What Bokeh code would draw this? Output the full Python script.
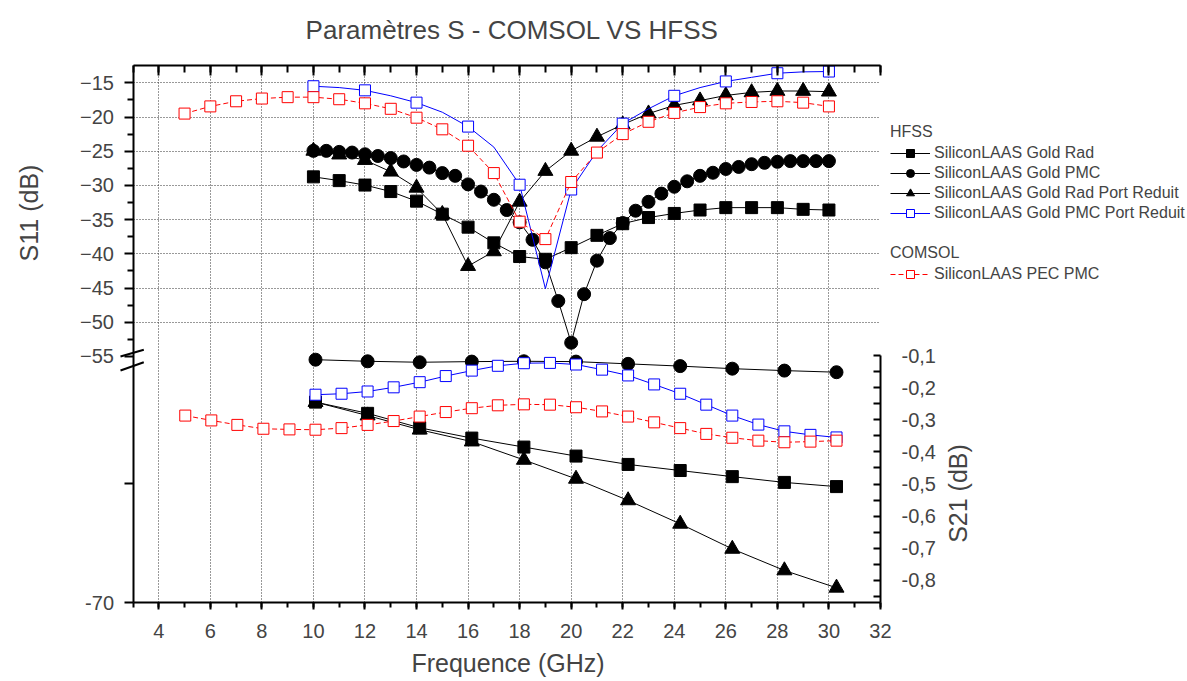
import math
from bokeh.plotting import figure
from bokeh.models import (Range1d, LinearAxis, FixedTicker, SingleIntervalTicker, Grid,
                          CustomJSTickFormatter, Legend, LegendItem, Label, Arrow)
from bokeh.embed import file_html
from bokeh.resources import INLINE

FONT = "Liberation Sans"

# ---------------- data ----------------
# S11 (dB), upper part, left axis
rad_s11_x = [10, 11, 12, 13, 14, 15, 16, 17, 18, 19, 20, 21, 22, 23, 24, 25, 26, 27, 28, 29, 30]
rad_s11 = [-28.75, -29.3, -29.95, -30.9, -32.3, -34.2, -36.1, -38.4, -40.4, -40.8, -39.1,
           -37.3, -35.6, -34.7, -34.1, -33.6, -33.25, -33.25, -33.25, -33.5, -33.6]

pmc_s11_x = [10, 10.5, 11, 11.5, 12, 12.5, 13, 13.5, 14, 14.5, 15, 15.5, 16, 16.5, 17, 17.5,
             18, 18.5, 19, 19.5, 20, 20.5, 21, 21.5, 22, 22.5, 23, 23.5, 24, 24.5, 25, 25.5,
             26, 26.5, 27, 27.5, 28, 28.5, 29, 29.5, 30]
pmc_s11 = [-24.95, -24.95, -25.1, -25.2, -25.45, -25.7, -26.0, -26.5, -27.0, -27.4, -28.2,
           -28.6, -29.85, -30.9, -32.1, -33.6, -35.4, -37.95, -41.25, -46.9, -53.0, -45.9,
           -41.0, -37.7, -35.5, -33.7, -32.4, -31.2, -30.2, -29.4, -28.6, -28.15, -27.6,
           -27.3, -26.9, -26.7, -26.55, -26.45, -26.45, -26.45, -26.45]

rpr_s11_x = [10, 11, 12, 13, 14, 15, 16, 17, 18, 19, 20, 21, 22, 23, 24, 25, 26, 27, 28, 29, 30]
rpr_s11 = [-24.95, -25.5, -26.3, -28.0, -30.35, -34.2, -41.8, -39.65, -32.4, -27.9, -24.95,
           -22.9, -21.1, -19.5, -18.3, -17.6, -16.85, -16.4, -16.2, -16.2, -16.3]

ppr_s11_x = [10, 11, 12, 13, 14, 15, 16, 17, 18, 19, 20, 21, 22, 23, 24, 25, 26, 27, 28, 29, 30]
ppr_s11 = [-15.5, -15.7, -16.1, -16.9, -17.9, -19.3, -21.4, -24.4, -29.9, -45.1, -30.6,
           -25.0, -20.97, -18.8, -16.9, -15.7, -14.8, -14.2, -13.6, -13.4, -13.35]
ppr_s11_marker_x = [10, 12, 14, 16, 18, 20, 22, 24, 26, 28, 30]

comsol_s11_x = [5, 6, 7, 8, 9, 10, 11, 12, 13, 14, 15, 16, 17, 18, 19, 20, 21, 22, 23, 24,
                25, 26, 27, 28, 29, 30]
comsol_s11 = [-19.5, -18.45, -17.7, -17.3, -17.1, -17.1, -17.4, -18.0, -18.8, -20.1, -21.8,
              -24.2, -28.2, -35.3, -37.85, -29.5, -25.2, -22.5, -20.7, -19.4, -18.55, -18.0,
              -17.8, -17.7, -17.9, -18.45]

# S21 (dB), lower part, right axis
hfss_s21_x = [10, 12, 14, 16, 18, 20, 22, 24, 26, 28, 30]
rad_s21 = [-0.245, -0.280, -0.325, -0.357, -0.385, -0.413, -0.439, -0.458, -0.477, -0.495, -0.508]
pmc_s21 = [-0.113, -0.118, -0.121, -0.119, -0.118, -0.119, -0.126, -0.133, -0.141, -0.147, -0.152]
rpr_s21 = [-0.245, -0.287, -0.331, -0.368, -0.425, -0.484, -0.551, -0.624, -0.702, -0.769, -0.823]

ppr_s21_x = [10, 11, 12, 13, 14, 15, 16, 17, 18, 19, 20, 21, 22, 23, 24, 25, 26, 27, 28, 29, 30]
ppr_s21 = [-0.222, -0.219, -0.212, -0.199, -0.183, -0.164, -0.147, -0.132, -0.124, -0.123,
           -0.128, -0.144, -0.162, -0.190, -0.219, -0.253, -0.287, -0.315, -0.336, -0.347, -0.355]

comsol_s21_x = [5, 6, 7, 8, 9, 10, 11, 12, 13, 14, 15, 16, 17, 18, 19, 20, 21, 22, 23, 24,
                25, 26, 27, 28, 29, 30]
comsol_s21 = [-0.287, -0.302, -0.316, -0.328, -0.330, -0.331, -0.326, -0.316, -0.304, -0.290,
              -0.276, -0.264, -0.255, -0.252, -0.253, -0.261, -0.274, -0.290, -0.308, -0.326,
              -0.344, -0.356, -0.365, -0.370, -0.368, -0.365]

# axis ticks / labels
s11_major = [-15, -20, -25, -30, -35, -40, -45, -50, -55]
s11_minor = [-17.5, -22.5, -27.5, -32.5, -37.5, -42.5, -47.5, -52.5]
s11_grid = [-15, -20, -25, -30, -35, -40, -45, -50]
s21_major = [-0.1, -0.2, -0.3, -0.4, -0.5, -0.6, -0.7, -0.8]
s21_minor = [-0.15, -0.25, -0.35, -0.45, -0.55, -0.65, -0.75, -0.85]

title_text = "Paramètres S - COMSOL VS HFSS"
x_title = "Frequence (GHz)"
s11_title = "S11 (dB)"
s21_title = "S21 (dB)"
hfss_names = ["SiliconLAAS Gold Rad", "SiliconLAAS Gold PMC",
              "SiliconLAAS Gold Rad Port Reduit", "SiliconLAAS Gold PMC Port Reduit"]
comsol_names = ["SiliconLAAS PEC PMC"]

# ---------------- layout constants ----------------
W, H = 1187, 681
FRAME_TOP = 65          # px of the top axis line
AXIS_BOTTOM = 602       # px of the bottom axis line
PX_PER_GHZ = 25.775     # upper layer
PX_PER_GHZ_2 = 26.05    # lower (S21) layer
PX_PER_DB = 6.84        # S11 upper segment
PX_PER_DB_21 = 321.3    # S21 axis
X0 = 3 - 132.5 / PX_PER_GHZ
X2_0 = 10 - 315.0 / PX_PER_GHZ_2
Y_TOP = -12.47
Y_BOTTOM = Y_TOP - (AXIS_BOTTOM - FRAME_TOP) / PX_PER_DB   # shown as -70
Y_LOW_TICK = -73.6
Y_BREAK = -56.3
S21_TOP = 0.8026
S21_AXIS_BOTTOM = S21_TOP - (AXIS_BOTTOM - FRAME_TOP) / PX_PER_DB_21
BLUE = "#0000ff"
RED = "#ff0000"

p = figure(width=W, height=H, output_backend="svg", toolbar_location=None,
           x_range=Range1d(X0, X0 + W / PX_PER_GHZ),
           y_range=Range1d(Y_TOP - (H - FRAME_TOP) / PX_PER_DB, Y_TOP + FRAME_TOP / PX_PER_DB),
           min_border=0, x_axis_location=None, y_axis_location=None)
p.extra_x_ranges = {"x2": Range1d(X2_0, X2_0 + W / PX_PER_GHZ_2)}
p.extra_y_ranges = {"s21": Range1d(S21_TOP - (H - FRAME_TOP) / PX_PER_DB_21,
                                   S21_TOP + FRAME_TOP / PX_PER_DB_21)}
p.center = [c for c in p.center if not isinstance(c, Grid)]
p.outline_line_color = None
p.background_fill_color = "white"
p.border_fill_color = "white"

xticker = SingleIntervalTicker(interval=2, num_minor_ticks=2)

def style_axis(ax, tick_out, tick_in, minor_out, minor_in):
    ax.major_tick_out = tick_out
    ax.major_tick_in = tick_in
    ax.minor_tick_out = minor_out
    ax.minor_tick_in = minor_in
    ax.axis_line_width = 2
    ax.major_tick_line_width = 2
    ax.minor_tick_line_width = 2
    ax.major_label_text_font = FONT
    ax.major_label_text_font_size = "20px"

# bottom axis
xb = LinearAxis(ticker=xticker, bounds=(3, 32), fixed_location=Y_BOTTOM)
style_axis(xb, 7, 0, 5, 0)
xb.major_label_standoff = 14
p.add_layout(xb, "below")

# top axis (ticks only)
xt = LinearAxis(ticker=xticker, bounds=(3, 32), fixed_location=Y_TOP,
                formatter=CustomJSTickFormatter(code="return ''"))
style_axis(xt, 0, 10, 0, 7)
xt.major_label_standoff = 0
xt.major_label_text_font_size = "1px"
p.add_layout(xt, "above")

# left axis (S11), upper segment
yl = LinearAxis(fixed_location=3, bounds=(Y_BREAK, Y_TOP),
                ticker=FixedTicker(ticks=s11_major, minor_ticks=s11_minor))
style_axis(yl, 9, 0, 6, 0)
yl.major_label_standoff = 10
p.add_layout(yl, "left")

# left axis, lower segment below the break
yl2 = LinearAxis(fixed_location=3, bounds=(Y_BOTTOM, Y_BREAK),
                 ticker=FixedTicker(ticks=[Y_LOW_TICK, Y_BOTTOM], minor_ticks=[]),
                 formatter=CustomJSTickFormatter(code="return tick < -85 ? '-70' : '';"))
style_axis(yl2, 9, 0, 0, 0)
yl2.major_label_standoff = 10
p.add_layout(yl2, "left")

# right axis (S21), lower part only
yr = LinearAxis(y_range_name="s21", fixed_location=32, bounds=(S21_AXIS_BOTTOM, -0.1),
                ticker=FixedTicker(ticks=s21_major, minor_ticks=s21_minor),
                formatter=CustomJSTickFormatter(code="return tick.toFixed(1).replace('.', ',');"))
style_axis(yr, 0, 7, 0, 7)
yr.major_label_standoff = 21
p.add_layout(yr, "right")

# grids
gx = Grid(dimension=0, ticker=xticker, bounds=(3.5, 31), cross_bounds=(Y_BOTTOM, Y_TOP),
          grid_line_color="#333333", grid_line_dash="1 2", grid_line_width=1)
gy = Grid(dimension=1, ticker=FixedTicker(ticks=s11_grid), cross_bounds=(3, 32),
          grid_line_color="#333333", grid_line_dash="1 2", grid_line_width=1)
p.add_layout(gx)
p.add_layout(gy)

# titles (screen units; y given from the top of the canvas)
def label(text, x, y_from_top, size, angle=0.0):
    p.add_layout(Label(x=x, y=H - y_from_top, x_units="screen", y_units="screen",
                       text=text, angle=angle, text_align="center",
                       text_baseline="middle", text_font=FONT, text_font_size=size))

label(title_text, 511.7, 29, "26px")
label(s11_title, 28, 212.5, "25px", math.pi / 2)
label(s21_title, 957, 493, "25px", math.pi / 2)
label(x_title, 507.5, 662, "25px")

# axis break marks
for y0, y1 in [(356, 349.3), (370, 361.7)]:
    p.add_layout(Arrow(end=None, start=None, x_start=120, y_start=H - y0, x_end=143.3,
                       y_end=H - y1, start_units="screen", end_units="screen",
                       line_color="black", line_width=2))

# ---------------- series ----------------
def keep_x(xs, ys, keep):
    return [x for x in xs if x in keep], [y for x, y in zip(xs, ys) if x in keep]

# S11
r_rad_l = p.line(rad_s11_x, rad_s11, line_color="black", line_width=1)
r_rad_m = p.scatter(rad_s11_x, rad_s11, marker="square", size=12, fill_color="black",
                    line_color="black")
r_pmc_l = p.line(pmc_s11_x, pmc_s11, line_color="black", line_width=1)
r_pmc_m = p.scatter(pmc_s11_x, pmc_s11, marker="circle", size=13, fill_color="black",
                    line_color="black")
r_rpr_l = p.line(rpr_s11_x, rpr_s11, line_color="black", line_width=1)
r_rpr_m = p.scatter(rpr_s11_x, rpr_s11, marker="triangle", size=15, fill_color="black",
                    line_color="black")
r_ppr_l = p.line(ppr_s11_x, ppr_s11, line_color=BLUE, line_width=1)
mx, my = keep_x(ppr_s11_x, ppr_s11, ppr_s11_marker_x)
r_ppr_m = p.scatter(mx, my, marker="square", size=11, fill_color="white",
                    line_color=BLUE, line_width=1)
r_com_l = p.line(comsol_s11_x, comsol_s11, line_color=RED, line_width=1, line_dash="5 3")
r_com_m = p.scatter(comsol_s11_x, comsol_s11, marker="square", size=11, fill_color="white",
                    line_color=RED, line_width=1)

# S21
kw = dict(x_range_name="x2", y_range_name="s21")
p.line(hfss_s21_x, rad_s21, line_color="black", line_width=1, **kw)
p.scatter(hfss_s21_x, rad_s21, marker="square", size=12, fill_color="black",
          line_color="black", **kw)
p.line(hfss_s21_x, pmc_s21, line_color="black", line_width=1, **kw)
p.scatter(hfss_s21_x, pmc_s21, marker="circle", size=13, fill_color="black",
          line_color="black", **kw)
p.line(hfss_s21_x, rpr_s21, line_color="black", line_width=1, **kw)
p.scatter(hfss_s21_x, rpr_s21, marker="triangle", size=15, fill_color="black",
          line_color="black", **kw)
p.line(ppr_s21_x, ppr_s21, line_color=BLUE, line_width=1, **kw)
p.scatter(ppr_s21_x, ppr_s21, marker="square", size=11, fill_color="white",
          line_color=BLUE, line_width=1, **kw)
p.line(comsol_s21_x, comsol_s21, line_color=RED, line_width=1, line_dash="5 3", **kw)
p.scatter(comsol_s21_x, comsol_s21, marker="square", size=11, fill_color="white",
          line_color=RED, line_width=1, **kw)

# ---------------- legends ----------------
def make_legend(title, items, bottom_from_top):
    lg = Legend(items=items, location=(890, H - bottom_from_top), title=title)
    lg.title_text_font = FONT
    lg.title_text_font_size = "16px"
    lg.title_text_font_style = "normal"
    lg.title_standoff = 2
    lg.label_text_font = FONT
    lg.label_text_font_size = "16px"
    lg.glyph_width = 40
    lg.glyph_height = 20
    lg.label_height = 20
    lg.label_standoff = 4
    lg.spacing = 0
    lg.padding = 0
    lg.margin = 0
    lg.border_line_color = None
    lg.background_fill_alpha = 0
    return lg

hfss_items = [
    LegendItem(label=hfss_names[0], renderers=[r_rad_l, r_rad_m]),
    LegendItem(label=hfss_names[1], renderers=[r_pmc_l, r_pmc_m]),
    LegendItem(label=hfss_names[2], renderers=[r_rpr_l, r_rpr_m]),
    LegendItem(label=hfss_names[3], renderers=[r_ppr_l, r_ppr_m]),
]
comsol_items = [LegendItem(label=comsol_names[0], renderers=[r_com_l, r_com_m])]
p.add_layout(make_legend("HFSS", hfss_items, 222.7))
p.add_layout(make_legend("COMSOL", comsol_items, 284.3))

open("out.html", "w").write(file_html(p, INLINE))
